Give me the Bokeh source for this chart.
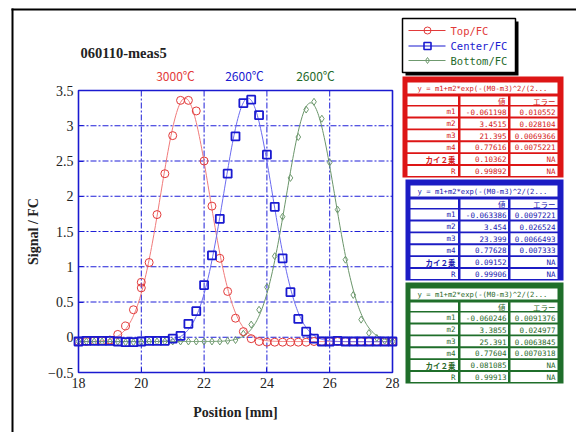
import numpy as np
from bokeh.plotting import figure
from bokeh.models import Range1d, FixedTicker, ColumnDataSource
from bokeh.core.properties import value
from bokeh.embed import file_html
from bokeh.resources import INLINE

# ---------------- data ----------------
pos = [18.0, 18.25, 18.5, 18.75, 19.0, 19.25, 19.5, 19.75, 20.0, 20.25, 20.5, 20.75,
       21.0, 21.25, 21.5, 21.75, 22.0, 22.25, 22.5, 22.75, 23.0, 23.25, 23.5, 23.75,
       24.0, 24.25, 24.5, 24.75, 25.0, 25.25, 25.5, 25.75, 26.0, 26.25, 26.5, 26.75,
       27.0, 27.25, 27.5, 27.75, 28.0]

top_fc = [-0.06, -0.06, -0.05, -0.05, -0.04, 0.04, 0.16, 0.39, 0.70, 1.06, 1.74, 2.32,
          2.86, 3.36, 3.36, 3.21, 2.50, 1.86, 1.12, 0.65, 0.27, 0.08, -0.02, -0.06,
          -0.07, -0.07, -0.07, -0.07, -0.07, -0.07, -0.06, -0.06, -0.06, -0.06, -0.06, -0.06,
          -0.06, -0.06, -0.06, -0.06, -0.06]
top_extra_x = [20.0]
top_extra_y = [0.78]

center_fc = [-0.06, -0.05, -0.05, -0.05, -0.05, -0.06, -0.07, -0.07, -0.06, -0.05, -0.05, -0.05,
             -0.02, 0.02, 0.19, 0.37, 0.74, 1.16, 1.68, 2.32, 2.85, 3.32, 3.37, 3.15,
             2.59, 1.85, 1.12, 0.64, 0.26, 0.08, -0.02, -0.06, -0.06, -0.05, -0.06, -0.06,
             -0.06, -0.06, -0.06, -0.06, -0.06]

bottom_fc = [-0.06, -0.06, -0.06, -0.06, -0.06, -0.06, -0.07, -0.07, -0.07, -0.06, -0.06, -0.06,
             -0.06, -0.06, -0.06, -0.06, -0.06, -0.06, -0.06, -0.05, -0.04, 0.05, 0.18, 0.39,
             0.71, 1.15, 1.71, 2.26, 2.84, 3.23, 3.34, 3.10, 2.48, 1.81, 1.10, 0.60,
             0.25, 0.06, -0.01, -0.05, -0.06]

series_names = ["Top/FC", "Center/FC", "Bottom/FC"]
temps = ["3000℃", "2600℃", "2600℃"]
chart_title = "060110-meas5"

# fit parameters (m1, m2, m3, m4) and statistics
param_names = ["m1", "m2", "m3", "m4", "カイ２乗", "R"]
top_vals = ["-0.061198", "3.4515", "21.395", "0.77616", "0.10362", "0.99892"]
top_errs = ["0.010552", "0.028104", "0.0069366", "0.0075221", "NA", "NA"]
center_vals = ["-0.063386", "3.454", "23.399", "0.77628", "0.09152", "0.99906"]
center_errs = ["0.0097221", "0.026524", "0.0066493", "0.007333", "NA", "NA"]
bottom_vals = ["-0.060246", "3.3855", "25.391", "0.77604", "0.081085", "0.99913"]
bottom_errs = ["0.0091376", "0.024977", "0.0063845", "0.0070318", "NA", "NA"]
fit_title = "y = m1+m2*exp(-(M0-m3)^2/(2..."
col_heads = ["値", "エラー"]

x_ticks = [18, 20, 22, 24, 26, 28]
y_ticks = [-0.5, 0, 0.5, 1, 1.5, 2, 2.5, 3, 3.5]
y_tick_labels = ["−0.5", "0", "0.5", "1", "1.5", "2", "2.5", "3", "3.5"]

# ---------------- layout constants (page pixels) ----------------
W, H = 576, 432
PAGE_X0, PAGE_Y0 = 0, 0
FRAME_L, FRAME_R, FRAME_T, FRAME_B = 78, 392, 90, 372
xlo, xhi = x_ticks[0], x_ticks[-1]
ylo, yhi = y_ticks[0], y_ticks[-1]
sx = (FRAME_R - FRAME_L) / (xhi - xlo)
sy = (FRAME_B - FRAME_T) / (yhi - ylo)
x_start = xlo - (FRAME_L - PAGE_X0) / sx
x_end = xhi + (PAGE_X0 + W - FRAME_R) / sx
y_start = ylo - (PAGE_Y0 + H - FRAME_B) / sy
y_end = yhi + (FRAME_T - PAGE_Y0) / sy

# ---------------- styles ----------------
RED = "#e23a3a"
RED_LINE = "#f07a7a"
BLUE = "#1a1ad0"
BLUE_LINE = "#6a6af0"
GREEN = "#6f9a6f"
GREEN_LINE = "#6a956a"
GREEN_DARK = "#1f6a2a"
GRIDBLUE = "#1f1fd8"
SERIF = "Liberation Serif"
MONO = "DejaVu Sans Mono"
JP = "Noto Sans CJK JP"

p = figure(width=W, height=H, output_backend="svg", toolbar_location=None,
           x_range=Range1d(x_start, x_end), y_range=Range1d(y_start, y_end),
           min_border=0, title=None)
p.extra_x_ranges = {"px": Range1d(PAGE_X0, PAGE_X0 + W)}
p.extra_y_ranges = {"py": Range1d(PAGE_Y0 + H, PAGE_Y0)}
p.outline_line_color = None
p.background_fill_color = "white"
p.border_fill_color = "white"
p.grid.visible = False

for ax in (p.xaxis, p.yaxis):
    ax.axis_line_color = None
    ax.major_tick_line_color = BLUE
    ax.major_tick_in = 5
    ax.major_tick_out = 0
    ax.minor_tick_line_color = None
    ax.major_label_text_font = SERIF
    ax.major_label_text_font_size = "14px"
    ax.major_label_text_color = "#222222"
    ax.axis_label_text_font = SERIF
    ax.axis_label_text_font_style = "bold"
    ax.axis_label_text_font_size = "14px"
    ax.axis_label_text_color = "#222222"

p.xaxis.fixed_location = ylo
p.yaxis.fixed_location = xlo
p.xaxis.bounds = (xlo, xhi)
p.yaxis.bounds = (ylo, yhi)
p.xaxis.ticker = FixedTicker(ticks=x_ticks)
p.yaxis.ticker = FixedTicker(ticks=y_ticks)
p.yaxis.major_label_overrides = {(int(v) if float(v).is_integer() else v): lab
                                 for v, lab in zip(y_ticks, y_tick_labels)}
p.xaxis.axis_label = "Position [mm]"
p.yaxis.axis_label = "Signal / FC"
p.xaxis.major_label_standoff = 5
p.yaxis.major_label_standoff = 5
p.xaxis.axis_label_standoff = 14
p.yaxis.axis_label_standoff = 4

kw = dict(x_range_name="px", y_range_name="py")

# outer black frame (left and top)
p.quad(left=[11], right=[13], top=[8], bottom=[PAGE_Y0 + H], fill_color="black",
       line_color=None, **kw)
p.quad(left=[11], right=[PAGE_X0 + W], top=[8], bottom=[10], fill_color="black",
       line_color=None, **kw)

# dash-dot grid inside the data frame
inner_x = x_ticks[1:-1]
inner_y = y_ticks[1:-1]
p.segment(x0=inner_x, y0=[ylo] * len(inner_x), x1=inner_x, y1=[yhi] * len(inner_x),
          line_color=GRIDBLUE, line_width=1, line_dash="6 2 2 2")
p.segment(x0=[xlo] * len(inner_y), y0=inner_y, x1=[xhi] * len(inner_y), y1=inner_y,
          line_color=GRIDBLUE, line_width=1, line_dash="6 2 2 2")

# fit curves
xfit = np.linspace(xlo, xhi, 401)
params = [
    [float(v) for v in top_vals[:4]],
    [float(v) for v in center_vals[:4]],
    [float(v) for v in bottom_vals[:4]],
]
for (m1, m2, m3, m4), c in zip(params, [RED_LINE, BLUE_LINE, GREEN_LINE]):
    yfit = m1 + m2 * np.exp(-(xfit - m3) ** 2 / (2 * m4 ** 2))
    p.line(xfit, yfit, line_color=c, line_width=1)

src = ColumnDataSource(dict(x=pos, top=top_fc, center=center_fc, bottom=bottom_fc))
p.scatter("x", "bottom", source=src, marker="diamond", size=7, fill_color=None,
          line_color=GREEN, line_width=1)
p.scatter("x", "top", source=src, marker="circle", size=8, fill_color=None,
          line_color=RED, line_width=1)
p.scatter(top_extra_x, top_extra_y, marker="circle", size=8, fill_color=None,
          line_color=RED, line_width=1)
p.scatter("x", "center", source=src, marker="square", size=8, fill_color=None,
          line_color=BLUE, line_width=1.8)

# data frame box
p.quad(left=[xlo], right=[xhi], bottom=[ylo], top=[yhi], fill_color=None,
       line_color=BLUE, line_width=1.6)

# title and temperature labels (page pixel coordinates)
p.text([80], [52], text=[chart_title], text_font=value(SERIF), text_font_style="bold",
       text_font_size=value("14.5px"), text_color="#222222", text_baseline="middle",
       text_align="left", **kw)
p.text([175, 244, 315], [75, 75, 75], text=temps, text_font=value(JP),
       text_font_size=value("12px"), text_color=[RED, BLUE, GREEN_DARK],
       text_align="center", text_baseline="middle", **kw)

# legend box with shadow
p.quad(left=[405], right=[518], top=[21], bottom=[75], fill_color="black", line_color=None, **kw)
p.quad(left=[402], right=[515], top=[18], bottom=[72], fill_color="white",
       line_color="black", line_width=1.5, **kw)
leg_y = [30, 45.5, 60]
for yy, c, tc, mk, sz, lw, name in zip(leg_y, [RED, BLUE, GREEN], [RED, BLUE, GREEN_DARK],
                                        ["circle", "square", "diamond"], [7, 7, 6],
                                        [1, 1.6, 1], series_names):
    p.line([408, 445], [yy, yy], line_color=c, line_width=1.2, **kw)
    p.scatter([427], [yy], marker=mk, size=sz, fill_color=None, line_color=c, line_width=lw, **kw)
    p.text([450], [yy], text=[name], text_font=value(MONO), text_font_size=value("10.5px"),
           text_color=tc, text_baseline="middle", text_align="left", **kw)

# fit result tables
tables = [
    (76, 402, "#dd1515", "#d42020", top_vals, top_errs),
    (179, 405, "#1c1cc4", "#2020b0", center_vals, center_errs),
    (282, 405, "#1f6e2a", "#2a6a2a", bottom_vals, bottom_errs),
]
for T, x0, frame_c, text_c, vals, errs in tables:
    cols = [(x0 + 5, 457.5), (460, 507.5), (510, 557)]
    p.quad(left=[x0], right=[563], top=[T], bottom=[T + 101], fill_color=frame_c,
           line_color=None, **kw)
    p.quad(left=[x0 + 5], right=[557], top=[T + 6], bottom=[T + 17], fill_color="white",
           line_color=None, **kw)
    p.text([482], [T + 11.5], text=[fit_title], text_font=value(MONO),
           text_font_size=value("7.2px"), text_color=text_c, text_align="center",
           text_baseline="middle", **kw)
    for l, r in cols:
        p.quad(left=[l], right=[r], top=[T + 20], bottom=[T + 28.5], fill_color="white",
               line_color=None, **kw)
    p.text([505, 555], [T + 24.5, T + 24.5], text=col_heads, text_font=value(JP),
           text_font_size=value("7.5px"), text_color=text_c, text_align="right",
           text_baseline="middle", **kw)
    for i, (nm, v, e) in enumerate(zip(param_names, vals, errs)):
        top = T + 30 + i * 11.9
        for l, r in cols:
            p.quad(left=[l], right=[r], top=[top], bottom=[top + 10], fill_color="white",
                   line_color=None, **kw)
        yc = top + 5.2
        p.text([455], [yc], text=[nm], text_font=value(JP if i == 4 else MONO),
               text_font_size=value("7.5px"), text_color=text_c, text_align="right",
               text_baseline="middle", text_font_style="bold" if i == 4 else "normal", **kw)
        p.text([506, 555], [yc, yc], text=[v, e], text_font=value(MONO),
               text_font_size=value("7.5px"), text_color=text_c, text_align="right",
               text_baseline="middle", **kw)

open("out.html", "w").write(file_html(p, INLINE))
